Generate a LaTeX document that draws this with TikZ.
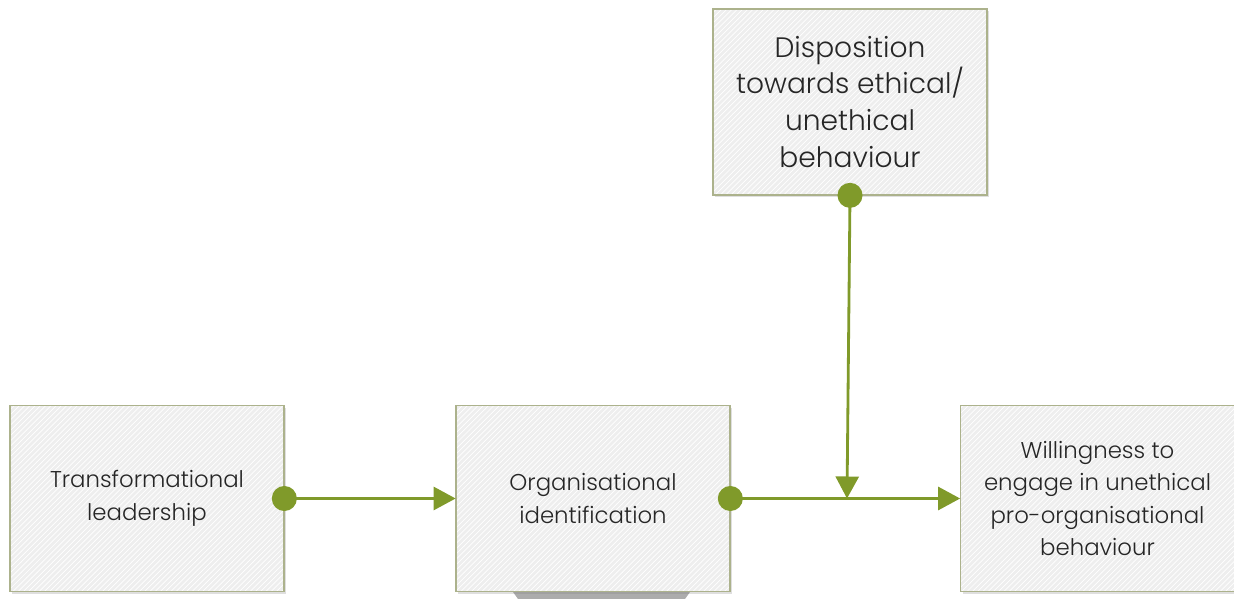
\documentclass[tikz,border=0pt]{standalone}
\usepackage{fontspec}
\setmainfont{Poppins Light}
\usetikzlibrary{arrows.meta,shadows,patterns}
\definecolor{boxline}{RGB}{172,178,140}
\definecolor{boxfill}{RGB}{238,238,238}
\definecolor{link}{RGB}{128,154,42}
\tikzset{
  factor/.style={fill=boxfill,
    minimum width=5.48cm,minimum height=3.72cm,align=center,
    inner sep=2pt,font=\fontsize{13}{18.5}\selectfont,text=black!85,
    drop shadow={opacity=0.25,shadow xshift=0.04cm,shadow yshift=-0.05cm},
    postaction={pattern=north east lines,pattern color=white},
    postaction={draw=boxline,line width=1pt}},
  path/.style={draw=link,line width=1.6pt,
    {Circle[length=0.5cm]}-{Triangle[length=0.44cm,width=0.46cm]},
    shorten <=-0.25cm}
}
\begin{document}
\begin{tikzpicture}
  \useasboundingbox (0,0) rectangle (24.68,11.98);
  \fill[gray!65] (10.26,0.14) -- (13.80,0.14) -- (13.70,0) -- (10.36,0) -- cycle;
  \draw
    (2.94,2.01) node[factor] (lead){Transformational\\leadership}
    (11.86,2.01) node[factor] (ident){Organisational\\identification}
    (21.95,2.01) node[factor] (uppb){Willingness to\\engage in unethical\\pro-organisational\\behaviour}
    (17.00,9.94) node[factor,font=\fontsize{16}{21}\selectfont] (moral){Disposition\\towards ethical/\\unethical\\behaviour};
  \coordinate (mod) at (16.94,2.01);
  \begin{scope}[path]
    \draw (lead.east) to (ident.west);
    \draw (ident.east) to (uppb.west);
    \draw (moral.south) to (mod);
  \end{scope}
\end{tikzpicture}
\end{document}
